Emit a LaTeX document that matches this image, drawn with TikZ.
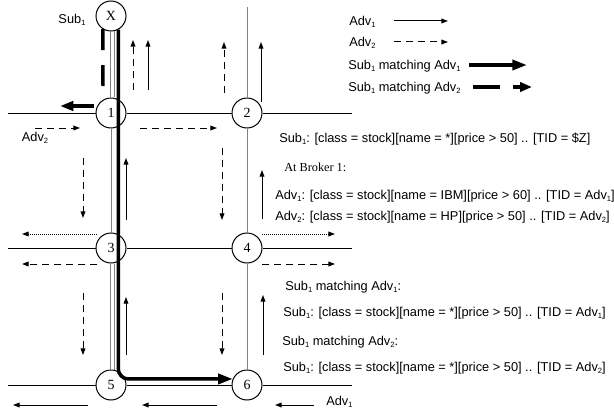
\documentclass[tikz,border=0pt]{standalone}
\usepackage{fontspec}
\setmainfont{Liberation Sans}
\newfontfamily\serifface{Liberation Serif}
\usetikzlibrary{arrows.meta}

% small lowered index digit, as in Sub1 / Adv1
\newcommand\sbs[1]{\raisebox{-0.35ex}{\fontsize{5.7}{6}\selectfont #1}}

\begin{document}
\begin{tikzpicture}[x=0.75pt,y=-0.75pt,
  font=\fontsize{9.6}{11}\selectfont,
  every node/.style={inner sep=0pt},
  txt/.style={anchor=base west},
  station/.style={circle,draw,fill=white,line width=0.75pt,minimum size=22.5pt,
    font=\serifface\fontsize{10.5}{12}\selectfont},
  road/.style={line width=0.6pt},
  rail/.style={line width=0.6pt,draw=gray},
  advone/.style={line width=0.75pt,-{Triangle[length=5pt,width=3.6pt]}},
  advtwo/.style={advone,dash pattern=on 5.25pt off 3.75pt},
  advdot/.style={advone,dash pattern=on 0.75pt off 0.75pt},
  subone/.style={line width=2.6pt,-{Triangle[length=11pt,width=7.5pt]}},
  subtwo/.style={line width=2.6pt,dash pattern=on 15.75pt off 11.25pt},
  subtwotip/.style={line width=2.6pt,-{Triangle[length=10pt,width=7pt]}}]

\useasboundingbox (0,0) rectangle (614,410);

% brokers
\node[station] (nX) at (111,16) {X};
\node[station] (n1) at (111,113) {1};
\node[station] (n2) at (247,113) {2};
\node[station] (n3) at (111,248) {3};
\node[station] (n4) at (247,248) {4};
\node[station] (n5) at (111,385) {5};
\node[station] (n6) at (247,385) {6};

% free ends of the network links
\coordinate (w1) at (8,113);  \coordinate (e1) at (352,113);
\coordinate (w2) at (8,248);  \coordinate (e2) at (352,248);
\coordinate (w3) at (8,385);  \coordinate (e3) at (352,385);
\coordinate (top2) at (247,7);

% horizontal links
\draw[road] (w1) -- (n1) -- (n2) -- (e1);
\draw[road] (w2) -- (n3) -- (n4) -- (e2);
\draw[road] (w3) -- (n5) -- (n6) -- (e3);

% vertical links
\draw[rail] ([xshift=-0.75pt]nX.south) -- ([xshift=-0.75pt]n1.north);
\draw[rail] ([xshift=2.25pt]nX.south) -- ([xshift=2.25pt]n1.north);
\draw[rail] (n1) -- (n3);
\draw[rail] ([xshift=-0.75pt]n3.south) -- ([xshift=-0.75pt]n5.north);
\draw[rail] ([xshift=2.25pt]n3.south) -- ([xshift=2.25pt]n5.north);
\draw[rail] (top2) -- (n2) -- (n4) -- (n6);

% Sub1 routed along Adv1
\draw[subone,rounded corners=7.5pt] (nX.-62) |- (n6.157);
% Sub1 routed along Adv2
\draw[subtwo] (nX.-122) -- (103,90);
\draw[subtwotip] (94,106) -- (60,106);

% advertisement flooding, row 1
\draw[advtwo] (35,128) -- (80,128);
\draw[advtwo] (140,128) -- (217,128);
% column X-1 and above 2
\draw[advtwo] (133,90) -- (133,40);
\draw[advone] (148,90) -- (148,40);
\draw[advtwo] (224,93) -- (224,42);
\draw[advone] (261,102) -- (261,42);
% columns 1-3 and 2-4
\draw[advtwo] (83,158) -- (83,218);
\draw[advone] (126,220) -- (126,158);
\draw[advtwo] (222,148) -- (222,220);
\draw[advone] (262,219) -- (262,170);
% row 2
\draw[advdot] (97,234) -- (22,234);
\draw[advtwo] (97,264) -- (22,264);
\draw[advdot] (262,234) -- (335,234);
\draw[advtwo] (262,264) -- (335,264);
% columns 3-5 and 4-6
\draw[advtwo] (83,293) -- (83,355);
\draw[advone] (126,355) -- (126,297);
\draw[advtwo] (222,293) -- (222,355);
\draw[advone] (263,355) -- (263,295);
% row 3
\draw[advone] (88,405) -- (13,405);
\draw[advone] (217,405) -- (142,405);
\draw[advone] (314,405) -- (275,405);
\node[txt] (bAdv) at (326,405) {Adv\sbs{1}};

% side labels
\node (lSub) at (72,20) {Sub\sbs{1}};
\node (lAdv) at (35,138) {Adv\sbs{2}};

% legend
\node[txt] (lg1) at (349,25.5) {Adv\sbs{1}};
\draw[advone] (394,21) -- (448,21);
\node[txt] (lg2) at (349,46.5) {Adv\sbs{2}};
\draw[advtwo] (394,42) -- (448,42);
\node[txt] (lg3) at (348,69.5) {Sub\sbs{1} matching Adv\sbs{1}};
\draw[subone] (469,65) -- (527,65);
\node[txt] (lg4) at (348,91.5) {Sub\sbs{1} matching Adv\sbs{2}};
\draw[line width=2.6pt,dash pattern=on 20.25pt off 9.75pt,-{Triangle[length=9pt,width=7pt]}] (473,87) -- (532,87);

% routing tables
\node[txt] (t1) at (279,142.5) {Sub\sbs{1}: [class = stock][name = *][price > 50] .. [TID = \$Z]};
\node[txt,font=\serifface\fontsize{9.2}{11}\selectfont] (t2) at (284,171) {At Broker 1:};
\node[txt] (t3) at (275,199.5) {Adv\sbs{1}: [class = stock][name = IBM][price > 60] .. [TID = Adv\sbs{1}]};
\node[txt] (t4) at (275,220.5) {Adv\sbs{2}: [class = stock][name = HP][price > 50] .. [TID = Adv\sbs{2}]};
\node[txt] (t5) at (285,290.5) {Sub\sbs{1} matching Adv\sbs{1}:};
\node[txt] (t6) at (283,316.5) {Sub\sbs{1}: [class = stock][name = *][price > 50] .. [TID = Adv\sbs{1}]};
\node[txt] (t7) at (282,345.5) {Sub\sbs{1} matching Adv\sbs{2}:};
\node[txt] (t8) at (283,371.5) {Sub\sbs{1}: [class = stock][name = *][price > 50] .. [TID = Adv\sbs{2}]};
\end{tikzpicture}
\end{document}
